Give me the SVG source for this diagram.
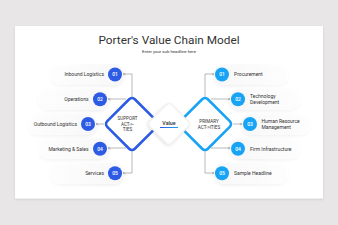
<svg xmlns="http://www.w3.org/2000/svg" width="338" height="225" viewBox="0 0 338 225">
<defs>
<filter id="card" x="-5%" y="-5%" width="110%" height="115%"><feDropShadow dx="0" dy="0.8" stdDeviation="1" flood-color="#000" flood-opacity="0.12"/></filter>
<filter id="pill" x="-20%" y="-40%" width="140%" height="180%"><feDropShadow dx="0" dy="1.5" stdDeviation="1.6" flood-color="#000" flood-opacity="0.07"/></filter>
<filter id="ctr" x="-30%" y="-30%" width="160%" height="160%"><feDropShadow dx="0" dy="1" stdDeviation="1.5" flood-color="#000" flood-opacity="0.15"/></filter>
<linearGradient id="pl" x1="0" y1="0" x2="1" y2="0"><stop offset="0" stop-color="#ffffff" stop-opacity="0.5"/><stop offset="1" stop-color="#f7f7f7"/></linearGradient>
<linearGradient id="pr" x1="1" y1="0" x2="0" y2="0"><stop offset="0" stop-color="#ffffff" stop-opacity="0.5"/><stop offset="1" stop-color="#f7f7f7"/></linearGradient>
<linearGradient id="ul" x1="0" y1="0" x2="1" y2="0"><stop offset="0" stop-color="#2d5be3"/><stop offset="1" stop-color="#18a4f4"/></linearGradient>
<marker id="ar" viewBox="0 0 6 6" refX="5" refY="3" markerWidth="3" markerHeight="3" markerUnits="userSpaceOnUse" orient="auto"><path d="M0,0.5 L5,3 L0,5.5" fill="none" stroke="#8a8a8a" stroke-width="1"/></marker>
</defs>
<style>
.t{font-family:Roboto,"Liberation Sans",sans-serif;fill:#333}
.lb{font-size:5px}
.n{font-family:Roboto,"Liberation Sans",sans-serif;font-size:5px;fill:#fff;font-weight:500;text-anchor:middle}
.cb{fill:#2d5be3}
.cl{fill:#18a4f4}
.pl{fill:url(#pl);filter:url(#pill)}
.pr{fill:url(#pr);filter:url(#pill)}
.c{fill:none;stroke:#8a8a8a;stroke-width:0.6;marker-end:url(#ar)}
.dt{font-family:Roboto,"Liberation Sans",sans-serif;font-size:4.6px;fill:#333;text-anchor:middle}
</style>
<rect width="338" height="225" fill="#e8e6e6"/>
<rect x="15" y="26" width="308" height="172.5" fill="#fff" filter="url(#card)"/>
<text class="t" x="169" y="44" font-size="11.8" text-anchor="middle" fill="#2a2a2a">Porter's Value Chain Model</text>
<text class="t" x="169" y="52.5" font-size="4.3" text-anchor="middle">Enter your sub headline here</text>

<g id="pills">
<rect class="pl" x="50" y="64" width="74" height="21" rx="10.5"/>
<rect class="pl" x="38" y="89" width="71" height="21" rx="10.5"/>
<rect class="pl" x="28" y="114" width="69" height="21" rx="10.5"/>
<rect class="pl" x="38" y="138" width="71" height="21" rx="10.5"/>
<rect class="pl" x="50" y="163" width="74" height="21" rx="10.5"/>
<rect class="pr" x="214" y="64" width="74" height="21" rx="10.5"/>
<rect class="pr" x="229" y="89" width="71" height="21" rx="10.5"/>
<rect class="pr" x="241" y="114" width="69" height="21" rx="10.5"/>
<rect class="pr" x="229" y="138" width="71" height="21" rx="10.5"/>
<rect class="pr" x="214" y="163" width="74" height="21" rx="10.5"/>
</g>

<g id="connectors">
<path class="c" d="M132,97 V74 H123"/>
<path class="c" d="M126,99 H108"/>
<path class="c" d="M104,124 H96"/>
<path class="c" d="M126,148 H108"/>
<path class="c" d="M132,151 V173 H123"/>
<path class="c" d="M205,97 V74 H214"/>
<path class="c" d="M211,99 H230"/>
<path class="c" d="M233,124 H242"/>
<path class="c" d="M211,148 H230"/>
<path class="c" d="M205,151 V173 H214"/>
</g>

<g id="support">
<rect x="-19.5" y="-19.5" width="39" height="39" rx="4" fill="#fff" stroke="#2d5be3" stroke-width="2.6" transform="translate(132,124) rotate(45)"/>
<text class="dt" x="127.5" y="120">SUPPORT</text>
<text class="dt" x="127.5" y="125.5">ACT-&gt;-</text>
<text class="dt" x="127.5" y="131">TIES</text>
</g>
<g id="primary">
<rect x="-19.5" y="-19.5" width="39" height="39" rx="4" fill="#fff" stroke="#18a4f4" stroke-width="2.6" transform="translate(205,124) rotate(45)"/>
<text class="dt" x="209" y="122.5">PRIMARY</text>
<text class="dt" x="209" y="128.5">ACT-&gt;ITIES</text>
</g>
<g id="value">
<rect x="-15.5" y="-15.5" width="31" height="31" rx="4" fill="#fff" stroke="#ececec" stroke-width="1.2" filter="url(#ctr)" transform="translate(169,124) rotate(45)"/>
<text class="t" x="169" y="125" font-size="5.3" font-weight="500" text-anchor="middle">Value</text>
<rect x="160" y="127" width="18" height="1" fill="url(#ul)"/>
</g>

<g id="l1"><circle class="cb" cx="115" cy="74.5" r="7"/><text class="n" x="115" y="76.3">01</text><text class="t lb" x="104" y="76.3" text-anchor="end">Inbound Logistics</text></g>
<g id="l2"><circle class="cb" cx="100" cy="99.3" r="7"/><text class="n" x="100" y="101.1">02</text><text class="t lb" x="88.5" y="101.1" text-anchor="end">Operations</text></g>
<g id="l3"><circle class="cb" cx="88" cy="124" r="7"/><text class="n" x="88" y="125.8">03</text><text class="t lb" x="77" y="125.8" text-anchor="end">Outbound Logistics</text></g>
<g id="l4"><circle class="cb" cx="100" cy="148.7" r="7"/><text class="n" x="100" y="150.5">04</text><text class="t lb" x="88.5" y="150.5" text-anchor="end">Marketing &amp; Sales</text></g>
<g id="l5"><circle class="cb" cx="115" cy="173.3" r="7"/><text class="n" x="115" y="175.1">05</text><text class="t lb" x="104" y="175.1" text-anchor="end">Services</text></g>

<g id="r1"><circle class="cl" cx="222" cy="74.5" r="7"/><text class="n" x="222" y="76.3">01</text><text class="t lb" x="234" y="76.3">Procurement</text></g>
<g id="r2"><circle class="cl" cx="238" cy="99.3" r="7"/><text class="n" x="238" y="101.1">02</text><text class="t lb" x="250" y="98.3">Technology</text><text class="t lb" x="250" y="104">Development</text></g>
<g id="r3"><circle class="cl" cx="250" cy="124" r="7"/><text class="n" x="250" y="125.8">03</text><text class="t lb" x="261.5" y="123">Human Resource</text><text class="t lb" x="261.5" y="128.7">Management</text></g>
<g id="r4"><circle class="cl" cx="238" cy="148.7" r="7"/><text class="n" x="238" y="150.5">04</text><text class="t lb" x="250" y="150.5">Firm Infrastructure</text></g>
<g id="r5"><circle class="cl" cx="222" cy="173.3" r="7"/><text class="n" x="222" y="175.1">05</text><text class="t lb" x="234" y="175.1">Sample Headline</text></g>
</svg>
